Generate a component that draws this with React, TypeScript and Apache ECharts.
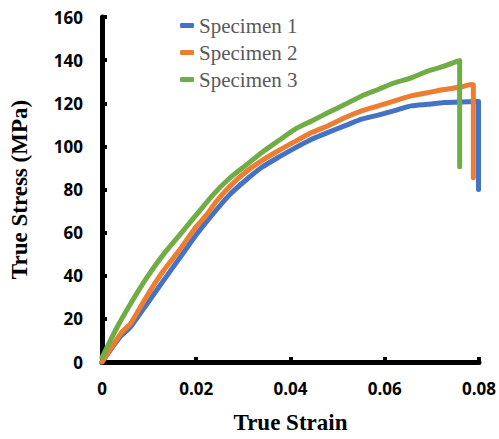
import React, { useEffect, useRef } from "react";
import * as echarts from "echarts";

const seriesNames = ["Specimen 1", "Specimen 2", "Specimen 3"];
const seriesColors = ["#4472C4", "#ED7D31", "#70AD47"];

const specimen1: [number, number][] = [
  [0, 0], [0.0038, 11.5], [0.006, 16.1], [0.0095, 26.8], [0.013, 37.6], [0.0165, 48.3],
  [0.02, 59.0], [0.0228, 66.7], [0.027, 77.4], [0.0305, 84.3], [0.034, 90.4], [0.0375, 95.0],
  [0.041, 99.3], [0.0446, 103.4], [0.048, 106.5], [0.0516, 109.6], [0.0551, 112.6],
  [0.0586, 114.5], [0.0621, 116.6], [0.0656, 118.8], [0.0691, 119.5], [0.0726, 120.3],
  [0.0761, 120.6], [0.0799, 120.8], [0.0799, 80],
];

const specimen2: [number, number][] = [
  [0, 0], [0.0042, 13.8], [0.006, 17.6], [0.0081, 25.3], [0.0102, 33.0], [0.013, 42.2],
  [0.0165, 52.1], [0.02, 62.8], [0.0221, 68.0], [0.0242, 74.3], [0.027, 81.2], [0.0305, 88.1],
  [0.034, 93.5], [0.0375, 98.1], [0.041, 102.3], [0.0446, 106.5], [0.048, 109.6],
  [0.0516, 113.4], [0.0551, 116.5], [0.0586, 118.8], [0.0621, 121.1], [0.0656, 123.4],
  [0.0691, 124.9], [0.0726, 126.4], [0.0761, 127.5], [0.0783, 128.7], [0.0788, 128.5],
  [0.0788, 85.5],
];

const specimen3: [number, number][] = [
  [0, 2], [0.0004, 3.8], [0.0032, 16.1], [0.006, 26.8], [0.0095, 39.1], [0.013, 49.8],
  [0.0165, 59.0], [0.02, 68.2], [0.0235, 77.4], [0.027, 85.1], [0.0305, 91.2], [0.034, 97.3],
  [0.0375, 102.7], [0.041, 108.0], [0.0446, 111.9], [0.048, 115.7], [0.0516, 119.5],
  [0.0551, 123.4], [0.0586, 126.4], [0.0621, 129.5], [0.0656, 131.8], [0.0691, 134.9],
  [0.0726, 137.2], [0.0754, 139.5], [0.0759, 139.8], [0.0759, 90.5],
];

const allData = [specimen1, specimen2, specimen3];

const xTitle = "True Strain";
const yTitle = "True Stress (MPa)";

const SERIF = "Liberation Serif";

export default function App() {
  const ref = useRef<HTMLDivElement>(null);
  useEffect(() => {
    if (!ref.current) return;
    const chart = echarts.init(ref.current, null, { renderer: "svg" });
    const tickFont = {
      fontFamily: "Open Sans",
      fontWeight: "bold" as const,
      fontSize: 17,
      color: "#000",
    };
    const titleFont = {
      fontFamily: SERIF,
      fontWeight: "bold" as const,
      fontSize: 23,
      color: "#000",
    };
    chart.setOption({
      animation: false,
      textStyle: { fontFamily: SERIF },
      grid: { left: 100, right: 19, top: 17, bottom: 74 },
      legend: {
        orient: "vertical",
        left: 180,
        top: 15,
        padding: 0,
        itemWidth: 14,
        itemHeight: 5,
        itemGap: 6,
        icon: "roundRect",
        data: seriesNames,
        textStyle: {
          fontFamily: SERIF,
          fontWeight: "normal",
          fontSize: 21,
          lineHeight: 21,
          color: "#595959",
        },
      },
      xAxis: {
        type: "value",
        min: 0,
        max: 0.08,
        interval: 0.02,
        name: xTitle,
        nameLocation: "middle",
        nameGap: 49,
        nameTextStyle: titleFont,
        splitLine: { show: false },
        axisLine: { show: true, lineStyle: { color: "#000", width: 5 } },
        axisTick: { show: true, inside: true, length: 5, lineStyle: { color: "#000", width: 4 } },
        axisLabel: {
          ...tickFont,
          margin: 18,
          formatter: (v: number) => (v === 0 ? "0" : v.toFixed(2)),
        },
      },
      yAxis: {
        type: "value",
        min: 0,
        max: 160,
        interval: 20,
        name: yTitle,
        nameLocation: "middle",
        nameGap: 71,
        nameTextStyle: titleFont,
        splitLine: { show: false },
        axisLine: { show: true, lineStyle: { color: "#000", width: 5 } },
        axisTick: { show: true, inside: true, length: 5, lineStyle: { color: "#000", width: 4 } },
        axisLabel: { ...tickFont, margin: 19 },
      },
      series: allData.map((d, i) => ({
        name: seriesNames[i],
        type: "line",
        data: d,
        showSymbol: false,
        symbol: "none",
        smooth: 0.2,
        color: seriesColors[i],
        lineStyle: { color: seriesColors[i], width: 5, cap: "round", join: "round" },
      })),
    });
    return () => chart.dispose();
  }, []);
  return (
    <div
      ref={ref}
      style={{ position: "fixed", left: 0, top: 0, width: 499, height: 439, background: "#fff" }}
    />
  );
}
